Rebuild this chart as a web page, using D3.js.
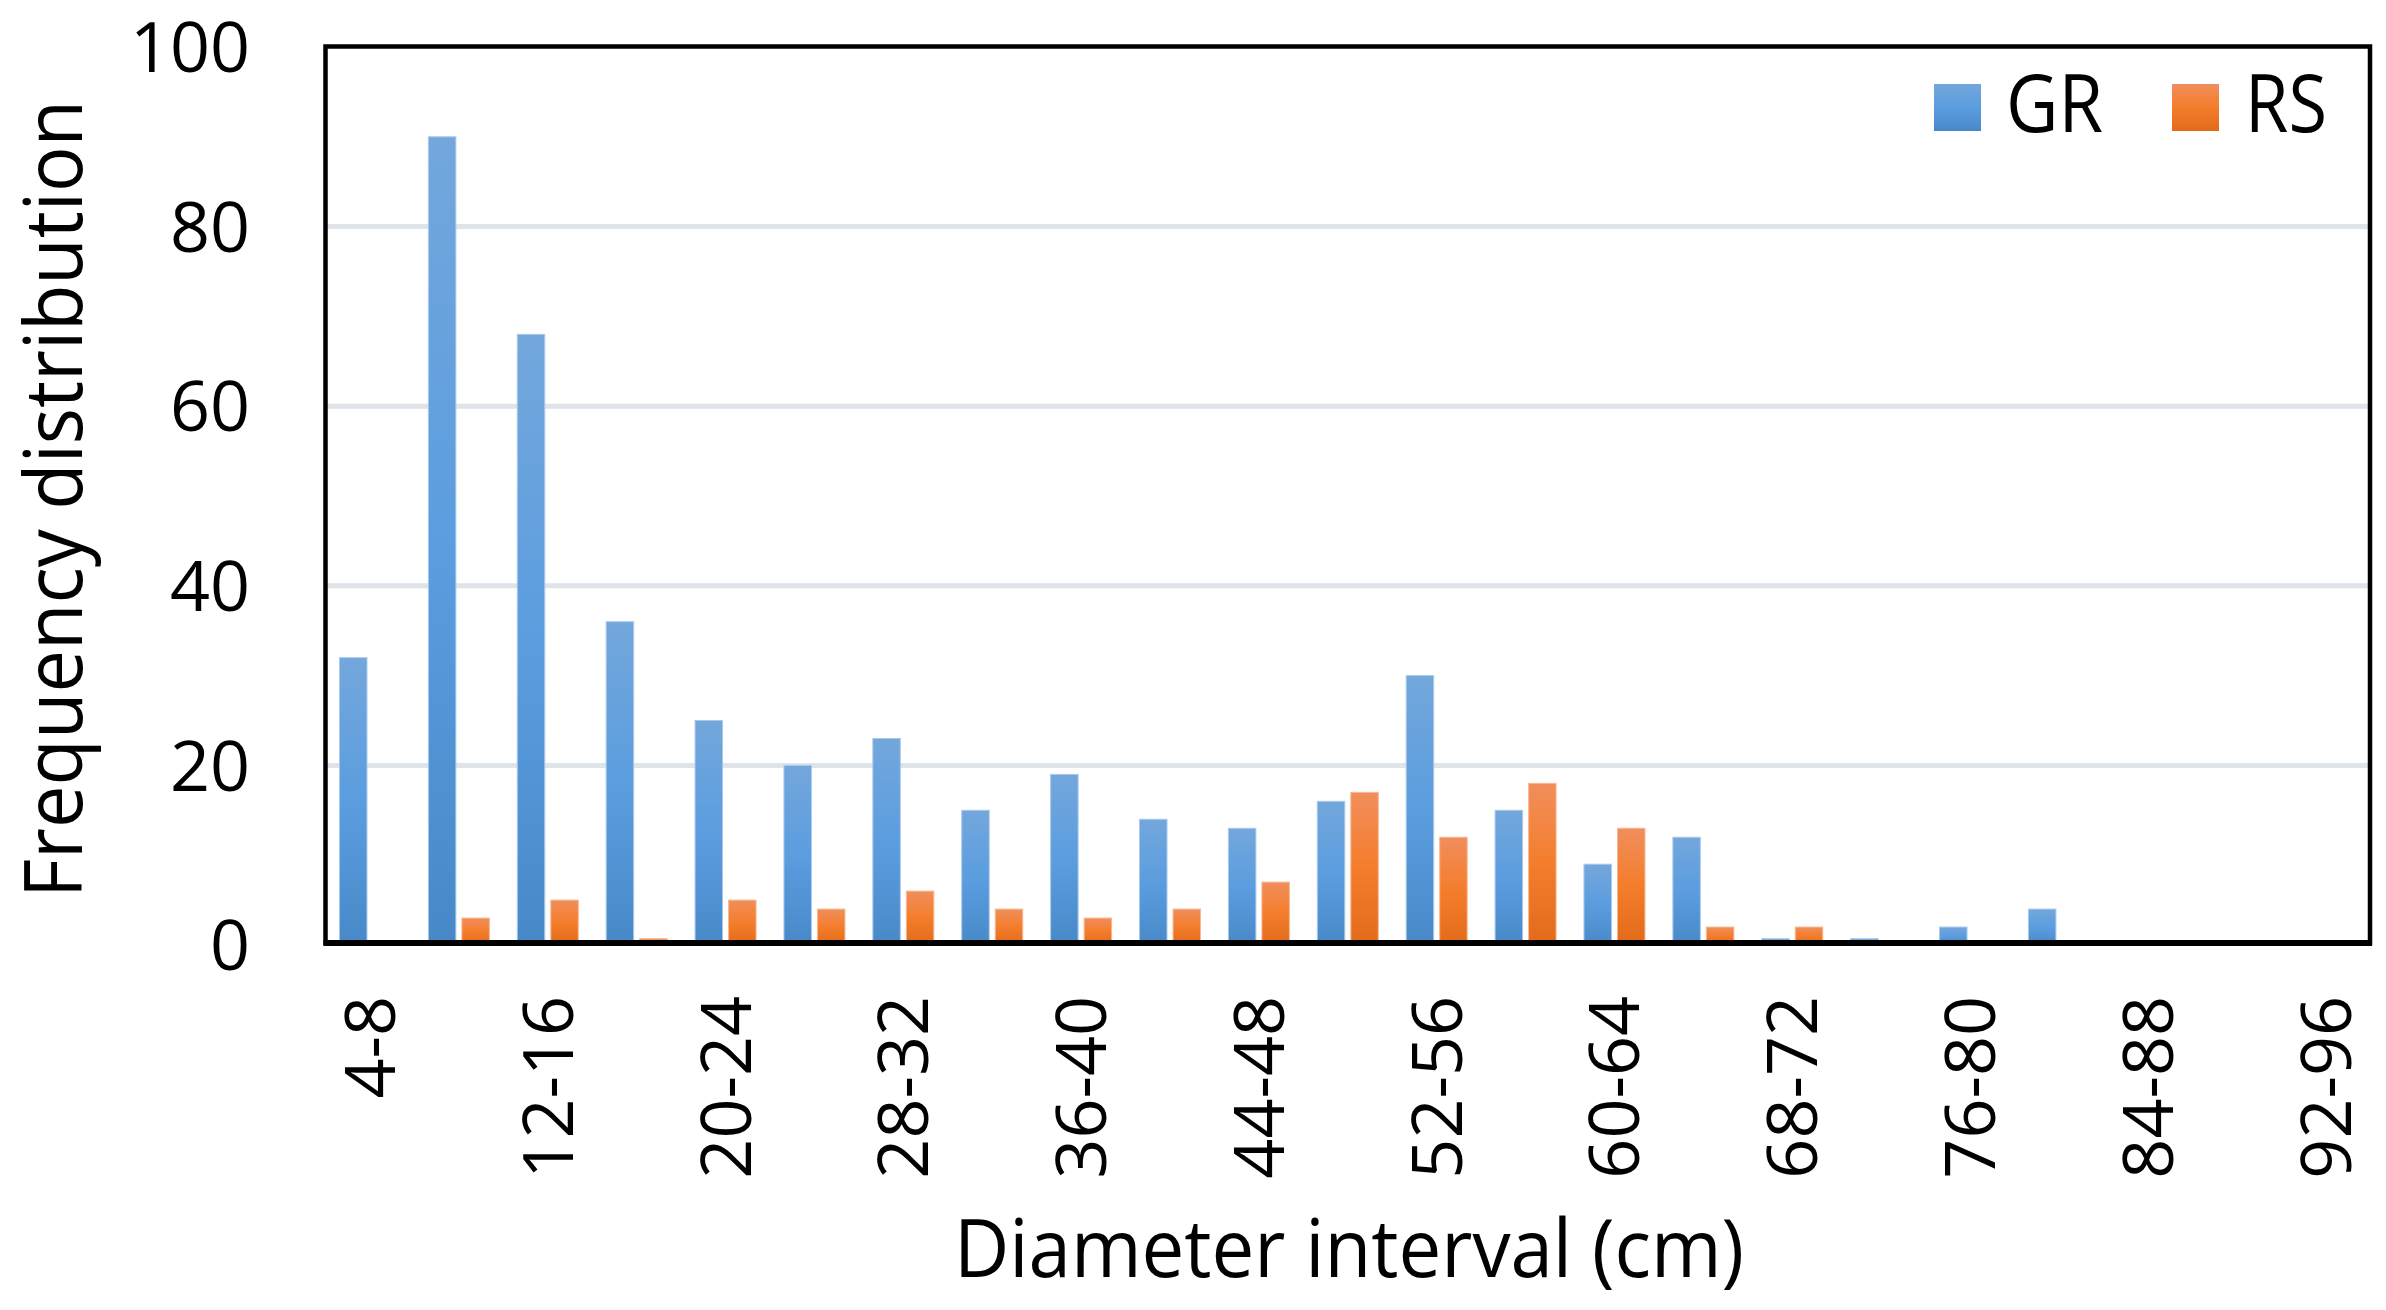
<!DOCTYPE html>
<html>
<head>
<meta charset="utf-8">
<script src="https://cdn.jsdelivr.net/npm/d3@7"></script>
<style>
  html, body { margin: 0; padding: 0; background: #fff; }
  svg { display: block; }
  text { font-family: "Open Sans", "Noto Sans", sans-serif; fill: #000; }
</style>
</head>
<body>
<svg id="chart" width="2386" height="1310"></svg>
<script>
// ---- data ----
const categories = ["4-8","8-12","12-16","16-20","20-24","24-28","28-32","32-36","36-40","40-44","44-48","48-52",
                    "52-56","56-60","60-64","64-68","68-72","72-76","76-80","80-84","84-88","88-92","92-96"];
const grValues = [32, 90, 68, 36, 25, 20, 23, 15, 19, 14, 13, 16, 30, 15, 9, 12, 0.7, 0.7, 2, 4, 0, 0, 0];
const rsValues = [0, 3, 5, 0.7, 5, 4, 6, 4, 3, 4, 7, 17, 12, 18, 13, 2, 2, 0, 0, 0, 0, 0, 0];
const seriesNames = ["GR", "RS"];
const yTicks = [0, 20, 40, 60, 80, 100];
const yTitle = "Frequency distribution";
const xTitle = "Diameter interval (cm)";

(function () {
  // ---- layout ----
  const pLeft = 325.5, pRight = 2370, pTop = 46.5, pBottom = 945;

  const svg = d3.select("#chart");
  const defs = svg.append("defs");

  function grad(id, stops) {
    const g = defs.append("linearGradient").attr("id", id)
      .attr("x1", 0).attr("y1", 0).attr("x2", 0).attr("y2", 1);
    stops.forEach(s => g.append("stop").attr("offset", s[0]).attr("stop-color", s[1]));
  }
  grad("gBlue", [[0, "#73a7dc"], [0.5, "#5b9ddf"], [1, "#4789c8"]]);
  grad("gOrange", [[0, "#f18e5c"], [0.5, "#f47d2b"], [1, "#e26b1b"]]);
  const fills = { GR: "url(#gBlue)", RS: "url(#gOrange)" };
  const strokes = { GR: "#a9c9ec", RS: "#f7b893" };

  const x = d3.scaleBand().domain(categories).range([pLeft, pRight]).padding(0);
  const inner = d3.scaleBand().domain(seriesNames).range([14, 75]).paddingInner(0.18);
  const y = d3.scaleLinear().domain([0, 100]).range([pBottom, 47]);

  // gridlines
  svg.append("g").selectAll("line")
    .data(yTicks.filter(t => t > 0 && t < 100))
    .join("line")
    .attr("x1", pLeft).attr("x2", pRight)
    .attr("y1", d => y(d)).attr("y2", d => y(d))
    .attr("stroke", "#dfe3ea").attr("stroke-width", 5);

  // bars
  const rows = categories.map((c, i) => ({ cat: c, GR: grValues[i], RS: rsValues[i] }));
  const groups = svg.append("g").selectAll("g")
    .data(rows).join("g")
    .attr("transform", d => `translate(${x(d.cat)},0)`);
  groups.selectAll("rect")
    .data(d => seriesNames.map(s => ({ s, v: d[s] })).filter(e => e.v > 0))
    .join("rect")
    .attr("x", e => inner(e.s))
    .attr("width", inner.bandwidth())
    .attr("y", e => y(e.v))
    .attr("height", e => y(0) - y(e.v))
    .attr("fill", e => fills[e.s])
    .attr("stroke", e => strokes[e.s])
    .attr("stroke-width", 1);

  // frame
  svg.append("rect")
    .attr("x", pLeft).attr("y", pTop)
    .attr("width", pRight - pLeft).attr("height", 943 - pTop)
    .attr("fill", "none").attr("stroke", "#000").attr("stroke-width", 4.5);
  // x axis line (thicker)
  svg.append("line")
    .attr("x1", pLeft - 2).attr("x2", pRight + 2)
    .attr("y1", 943).attr("y2", 943)
    .attr("stroke", "#000").attr("stroke-width", 6);

  // y tick labels
  svg.append("g").selectAll("text")
    .data(yTicks).join("text")
    .attr("x", 250).attr("y", d => y(d))
    .attr("dy", "0.36em")
    .attr("text-anchor", "end")
    .attr("font-size", 70)
    .text(d => d);

  // x tick labels (every other category)
  svg.append("g").selectAll("text")
    .data(categories.filter((c, i) => i % 2 === 0)).join("text")
    .attr("transform", d => `translate(${x(d) + x.bandwidth() / 2 + 25},996) rotate(-90)`)
    .attr("text-anchor", "end")
    .attr("font-size", 70)
    .text(d => d);

  // axis titles
  svg.append("text")
    .attr("transform", "translate(82,499) rotate(-90)")
    .attr("text-anchor", "middle")
    .attr("font-size", 80)
    .attr("textLength", 798).attr("lengthAdjust", "spacingAndGlyphs")
    .text(yTitle);

  svg.append("text")
    .attr("x", 1349).attr("y", 1277)
    .attr("text-anchor", "middle")
    .attr("font-size", 80)
    .attr("textLength", 790).attr("lengthAdjust", "spacingAndGlyphs")
    .text(xTitle);

  // legend
  const legendPos = { GR: { sq: 1934, tx: 2006, len: 97 }, RS: { sq: 2172, tx: 2245, len: 82 } };
  const lg = svg.append("g");
  seriesNames.forEach(s => {
    lg.append("rect")
      .attr("x", legendPos[s].sq).attr("y", 84)
      .attr("width", 47).attr("height", 47)
      .attr("fill", fills[s]);
    lg.append("text")
      .attr("x", legendPos[s].tx).attr("y", 132)
      .attr("font-size", 80)
      .attr("textLength", legendPos[s].len).attr("lengthAdjust", "spacingAndGlyphs")
      .text(s);
  });
})();
</script>
</body>
</html>
